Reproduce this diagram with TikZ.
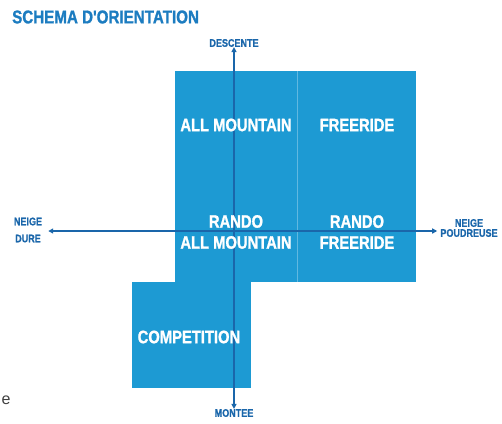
\documentclass[tikz,border=0pt]{standalone}
\usepackage{fontspec}
\setmainfont{Liberation Sans}
\newfontfamily\etroit[FakeStretch=0.82,FakeBold=1.2]{Liberation Sans}
\usetikzlibrary{arrows.meta}

\definecolor{ski}{HTML}{1D9AD3}
\definecolor{axe}{HTML}{1A66AA}
\definecolor{titre}{HTML}{1C7CC0}

\tikzset{
zone/.style={fill=ski,draw=none},
axis/.style={draw=axe,line width=1.6pt,{Triangle[length=5pt,width=5pt]}-{Triangle[length=5pt,width=5pt]}},
lab/.style={text=white,align=center,inner sep=0pt,font=\etroit\bfseries\fontsize{18}{21}\selectfont},
pole/.style={text=axe,align=center,inner sep=0pt,font=\etroit\bfseries\fontsize{11}{17}\selectfont}
}

\begin{document}
\begin{tikzpicture}[x=1pt,y=-1pt]

\useasboundingbox (0,0) rectangle (502,423);

\node[text=titre,anchor=west,inner sep=0pt,font=\etroit\bfseries\fontsize{18.5}{20}\selectfont] (title) at (12,17) {SCHEMA D'ORIENTATION};

\fill[zone] (175,71) rectangle (416,282);
\fill[zone] (132,282) rectangle (251,388);
\draw[white,opacity=.3,line width=1pt] (297,71)--(297,282);

\node[pole] (desc) at (234,43) {DESCENTE};
\node[pole] (mont) at (234,413) {MONTEE};
\node[pole] (dure) at (28,230) {NEIGE\\DURE};
\node[pole,font=\etroit\bfseries\fontsize{11}{10}\selectfont] (poud) at (469,228) {NEIGE\\POUDREUSE};

\draw[axis] (desc.south) -- (mont.north);
\draw[axis,shorten <=6pt,shorten >=3pt] (dure.east |- 0,231) -- (poud.west |- 0,231);

\foreach \n/\p/\t in {
am/{(236,125)}/{ALL MOUNTAIN},
fr/{(357,125)}/{FREERIDE},
ram/{(236,232)}/{RANDO\\ALL MOUNTAIN},
rfr/{(357,232)}/{RANDO\\FREERIDE},
comp/{(191,337)}/{COMPETITION}
}{
\node[lab] (\n) at \p {\t};
}

\node[text=black!75,inner sep=0pt,font=\fontsize{16}{18}\selectfont] (e) at (6,400) {e};

\end{tikzpicture}
\end{document}
